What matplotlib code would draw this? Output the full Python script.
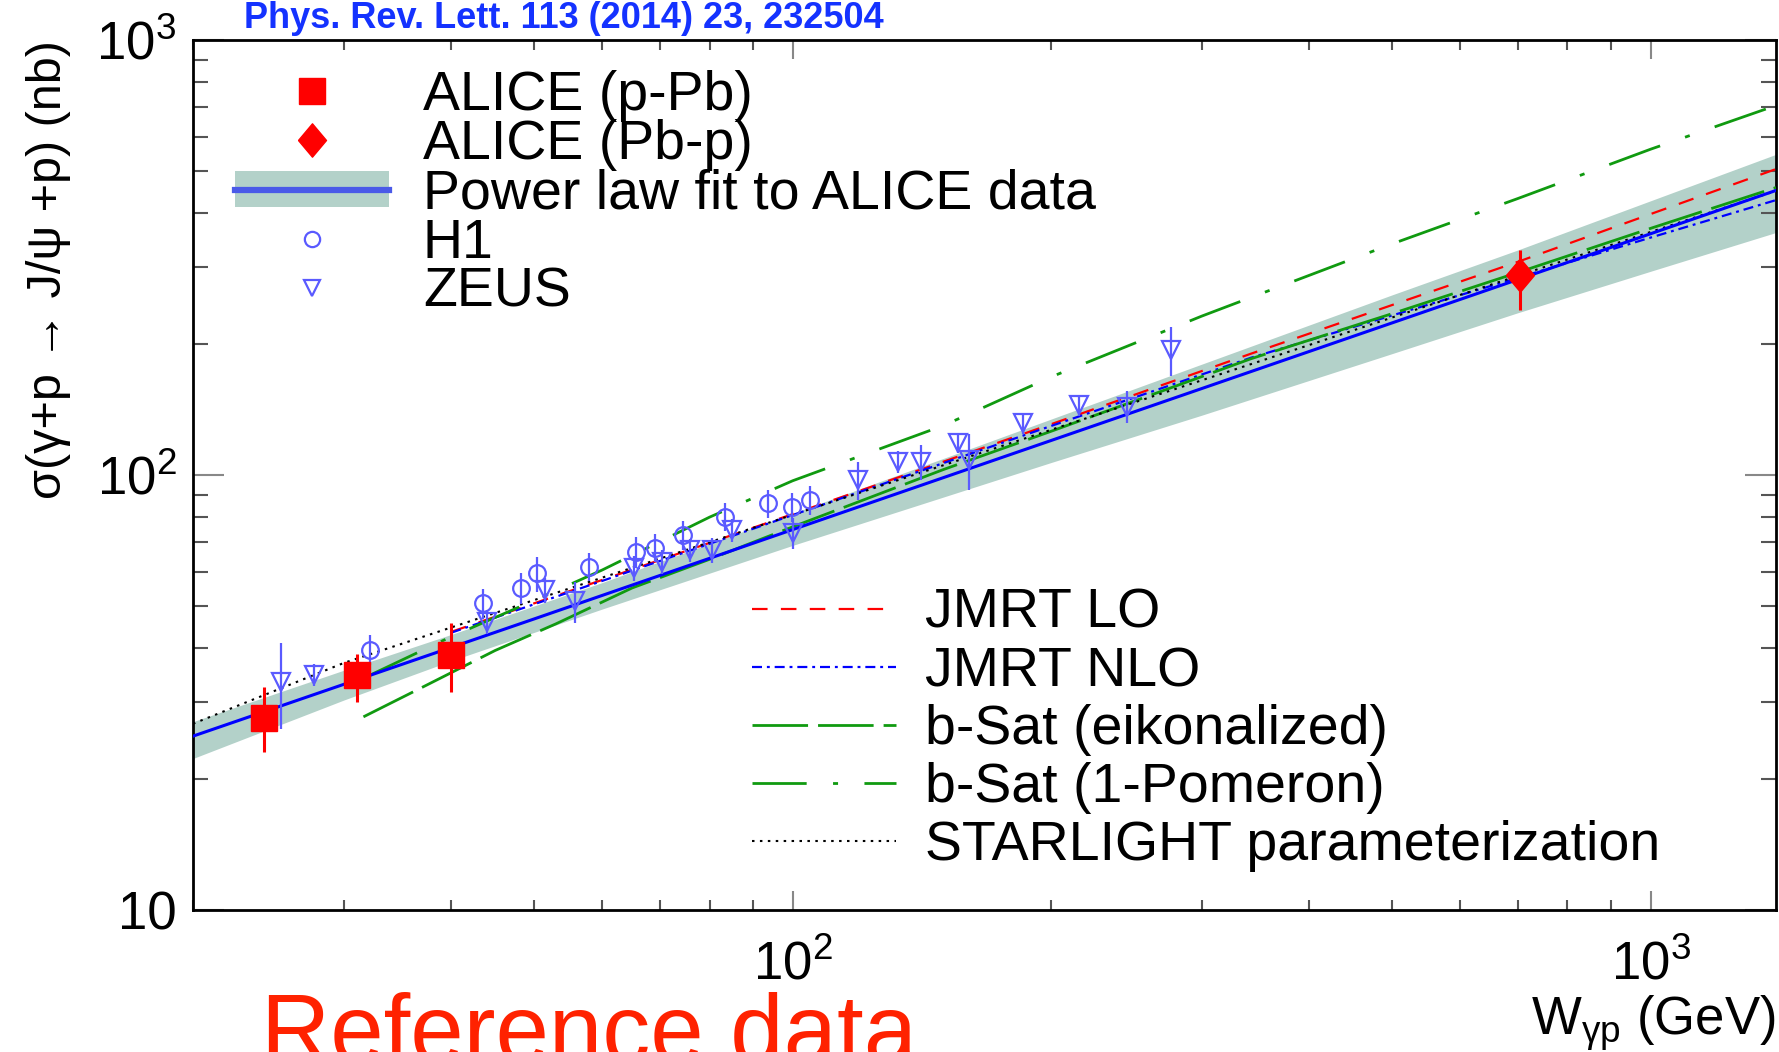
import matplotlib
matplotlib.use("Agg")
import matplotlib.pyplot as plt
from matplotlib.lines import Line2D
from matplotlib.patches import Patch
from matplotlib.ticker import FuncFormatter, LogLocator, NullFormatter
import numpy as np

plt.rcParams['font.family'] = ['Liberation Sans', 'DejaVu Sans']
plt.rcParams['mathtext.fontset'] = 'custom'
plt.rcParams['mathtext.rm'] = 'Liberation Sans'
plt.rcParams['mathtext.it'] = 'Liberation Sans:italic'
plt.rcParams['mathtext.bf'] = 'Liberation Sans:bold'

# ---------------- data ----------------
alice_pPb_W = [24.2, 31.1, 40.0]
alice_pPb_sigma = [27.7, 34.7, 38.5]
alice_pPb_err_lo = [4.6, 4.6, 6.8]
alice_pPb_err_hi = [4.9, 4.0, 7.1]

alice_Pbp_W = [704.0]
alice_Pbp_sigma = [289.0]
alice_Pbp_err_lo = [50.0]
alice_Pbp_err_hi = [40.0]

h1_W = [32.2, 43.5, 48.2, 50.4, 57.9, 65.6, 69.2, 74.6, 83.4, 93.7, 99.7, 104.7]
h1_sigma = [39.7, 50.7, 54.9, 59.4, 61.5, 66.6, 68.0, 72.8, 80.2, 86.1, 84.6, 87.6]
h1_err = [3.2, 4.0, 4.5, 5.5, 4.5, 5.5, 5.0, 5.5, 6.0, 6.5, 6.5, 6.5]

zeus_W = [25.3, 27.7, 44.0, 51.5, 55.8, 65.3, 70.4, 76.0, 80.5, 84.9, 100.0,
          119.2, 132.7, 141.3, 155.8, 160.7, 185.5, 215.8, 245.6, 276.0]
zeus_sigma = [33.5, 34.7, 46.0, 54.4, 51.3, 61.0, 63.2, 67.2, 67.2, 74.8, 73.6,
              97.4, 107.3, 107.3, 118.3, 108.3, 131.5, 144.9, 143.6, 194.0]
zeus_err = [7.5, 2.0, 3.0, 3.5, 5.5, 4.0, 4.0, 4.0, 4.5, 4.5, 6.0,
            10.0, 6.5, 10.0, 6.0, 16.0, 7.5, 8.0, 12.0, 25.0]

fit_W = [20, 50, 100, 200, 500, 1000, 1400]
fit_sigma = [25.1, 46.7, 74.9, 120.0, 223.8, 358.6, 451.0]

band_W = [20, 30, 40, 60, 100, 200, 300, 500, 700, 1000, 1400]
band_lo = [22.3, 30.4, 37.4, 49.2, 68.9, 106.8, 137.3, 190.2, 236.0, 294.0, 361.0]
band_hi = [27.1, 35.6, 43.0, 56.6, 81.6, 134.4, 179.9, 259.6, 329.0, 427.0, 546.0]

jmrt_W = [40, 60, 100, 200, 342, 500, 700, 1000, 1400]
jmrt_lo_sigma = [43.6, 57.4, 81.3, 130.8, 190.0, 246.0, 309.0, 398.0, 505.0]
jmrt_nlo_sigma = [43.4, 57.1, 80.9, 129.6, 186.0, 232.8, 283.8, 351.4, 428.5]

bsat_eik_W = [31.6, 37, 45, 53, 65, 80, 100, 150, 200, 342, 500, 700, 1000, 1400]
bsat_eik_sigma = [27.8, 32.5, 39.5, 45.5, 55.0, 64.0, 76.0, 103.0, 126.0, 185.0,
                  235.0, 292.0, 369.0, 458.0]

bsat_1pom_W = [32, 40, 50, 60, 80, 100, 150, 200, 300, 500, 700, 1000, 1400]
bsat_1pom_sigma = [34.5, 42.5, 51.5, 60.5, 80.0, 97.0, 130.0, 168.0, 232.0, 340.0,
                   432.0, 561.0, 707.0]

starlight_W = [20, 30, 50, 100, 200, 400, 700, 1000, 1400]
starlight_sigma = [26.8, 37.0, 51.6, 81.0, 127.0, 199.0, 287.0, 362.0, 450.0]

legend1_labels = ["ALICE (p-Pb)", "ALICE (Pb-p)", "Power law fit to ALICE data", "H1", "ZEUS"]
legend2_labels = ["JMRT LO", "JMRT NLO", "b-Sat (eikonalized)", "b-Sat (1-Pomeron)",
                  "STARLIGHT parameterization"]

# ---------------- styles ----------------
RED = '#ff0000'
BLUE = '#0000ff'
DATA_BLUE = '#5a5aff'
GREEN = '#109a10'
BAND = '#b3d1c9'
diamond = [(-0.42, 0.0), (0.0, 0.5), (0.42, 0.0), (0.0, -0.5), (-0.42, 0.0)]

W_PX, H_PX = 1779, 1052
fig = plt.figure(figsize=(W_PX / 100, H_PX / 100), dpi=100)
ax = fig.add_axes([193 / W_PX, 1 - 910 / H_PX, (1776 - 193) / W_PX, (910 - 40) / H_PX])

ax.set_xscale('log')
ax.set_yscale('log')
ax.set_xlim(20, 1400)
ax.set_ylim(10, 1000)

# band + fit
ax.fill_between(band_W, band_lo, band_hi, color=BAND, lw=0, zorder=1)

ax.plot(jmrt_W, jmrt_lo_sigma, color=RED, lw=1.6, dashes=(7, 6), zorder=3)
ax.plot(jmrt_W, jmrt_nlo_sigma, color=BLUE, lw=1.6, dashes=(4.5, 2.2, 1.3, 2.2), zorder=3)
ax.plot(bsat_eik_W, bsat_eik_sigma, color=GREEN, lw=2.0, dashes=(20, 3.6), zorder=3)
ax.plot(bsat_1pom_W, bsat_1pom_sigma, color=GREEN, lw=2.0, dashes=(19.5, 9.5, 1.8, 9.5), zorder=3)
ax.plot(starlight_W, starlight_sigma, color='black', lw=1.5, dashes=(1.2, 2.6), zorder=3)
ax.plot(fit_W, fit_sigma, color=BLUE, lw=2.2, zorder=4)

# data
ax.errorbar(h1_W, h1_sigma, yerr=h1_err, fmt='o', ms=12, mfc='none', mec=DATA_BLUE,
            mew=1.6, ecolor=DATA_BLUE, elinewidth=1.6, capsize=0, zorder=5)
ax.errorbar(zeus_W, zeus_sigma, yerr=zeus_err, fmt='v', ms=13, mfc='none', mec=DATA_BLUE,
            mew=1.6, ecolor=DATA_BLUE, elinewidth=1.6, capsize=0, zorder=5)
ax.errorbar(alice_pPb_W, alice_pPb_sigma, yerr=[alice_pPb_err_lo, alice_pPb_err_hi],
            fmt='s', ms=19, color=RED, mec=RED, ecolor=RED, elinewidth=2.2, capsize=0, zorder=6)
ax.errorbar(alice_Pbp_W, alice_Pbp_sigma, yerr=[alice_Pbp_err_lo, alice_Pbp_err_hi],
            fmt='none', ecolor=RED, elinewidth=2.2, capsize=0, zorder=6)
ax.plot(alice_Pbp_W, alice_Pbp_sigma, ls='none', marker=diamond, ms=24, color=RED, mec=RED, zorder=7)

# axes styling
for s in ax.spines.values():
    s.set_linewidth(2.0)
    s.set_color('black')

def fmt_log(v, pos):
    e = int(round(np.log10(v)))
    if e == 1:
        return '10'
    return r'$\mathregular{10^{%d}}$' % e

ax.xaxis.set_major_locator(LogLocator(base=10, numticks=10))
ax.yaxis.set_major_locator(LogLocator(base=10, numticks=10))
ax.xaxis.set_minor_locator(LogLocator(base=10, subs=np.arange(2, 10), numticks=20))
ax.yaxis.set_minor_locator(LogLocator(base=10, subs=np.arange(2, 10), numticks=20))
ax.xaxis.set_major_formatter(FuncFormatter(fmt_log))
ax.yaxis.set_major_formatter(FuncFormatter(fmt_log))
ax.xaxis.set_minor_formatter(NullFormatter())
ax.yaxis.set_minor_formatter(NullFormatter())

ax.tick_params(axis='x', which='major', direction='in', length=14, width=1.5, color='#888888',
               top=True, labelsize=38, pad=22)
ax.tick_params(axis='x', which='minor', direction='in', length=7, width=1.5, color='#555555', top=True)
ax.tick_params(axis='y', which='major', direction='in', length=22, width=1.5, color='#888888',
               right=True, labelsize=38, pad=12)
ax.tick_params(axis='y', which='minor', direction='in', length=11, width=1.5, color='#555555', right=True)

ax.set_ylabel('σ(γ+p → J/ψ +p) (nb)', fontsize=35, loc='top')
ax.yaxis.set_label_coords(-0.077, 1.0)
ax.set_xlabel(r'W$_{\mathregular{γp}}$ (GeV)', fontsize=38, loc='right')
ax.xaxis.set_label_coords(1.0, -0.096)

# legends
FS = 40
h_pPb = Line2D([], [], ls='none', marker='s', ms=19, color=RED, mec=RED)
h_Pbp = Line2D([], [], ls='none', marker=diamond, ms=24, color=RED, mec=RED)
h_fit = (Patch(fc=BAND, ec='none'), Line2D([], [], color='#4a5ae8', lw=4.5))
h_h1 = Line2D([], [], ls='none', marker='o', ms=11, mfc='none', mec=DATA_BLUE, mew=1.6)
h_zeus = Line2D([], [], ls='none', marker='v', ms=12, mfc='none', mec=DATA_BLUE, mew=1.6)
leg1 = ax.legend([h_pPb, h_Pbp, h_fit, h_h1, h_zeus], legend1_labels, loc='upper left',
                 bbox_to_anchor=(235 / W_PX, 1 - 70 / H_PX), bbox_transform=fig.transFigure,
                 frameon=False, fontsize=FS, handlelength=2.77, handleheight=0.62,
                 handletextpad=0.61, labelspacing=-0.05, borderpad=0, borderaxespad=0)
ax.add_artist(leg1)

h2 = [Line2D([], [], color=RED, lw=1.6, dashes=(7, 6)),
      Line2D([], [], color=BLUE, lw=1.6, dashes=(4.5, 2.2, 1.3, 2.2)),
      Line2D([], [], color=GREEN, lw=2.0, dashes=(20, 3.6)),
      Line2D([], [], color=GREEN, lw=2.0, dashes=(19.5, 9.5, 1.8, 9.5)),
      Line2D([], [], color='black', lw=1.5, dashes=(1.2, 2.6))]
leg2 = ax.legend(h2, legend2_labels, loc='upper left',
                 bbox_to_anchor=(752 / W_PX, 1 - 588 / H_PX), bbox_transform=fig.transFigure,
                 frameon=False, fontsize=FS, handlelength=2.59, handletextpad=0.52,
                 labelspacing=0.11, borderpad=0, borderaxespad=0)

# annotations
fig.text(244 / W_PX, 1 - 28 / H_PX, 'Phys. Rev. Lett. 113 (2014) 23, 232504',
         color='#1432ff', fontsize=26, fontweight='bold', ha='left', va='baseline')
fig.text(261 / W_PX, 1 - 1062 / H_PX, 'Reference data', color='#ff2200',
         fontsize=69, ha='left', va='baseline')

fig.savefig('out.png', dpi=100)
